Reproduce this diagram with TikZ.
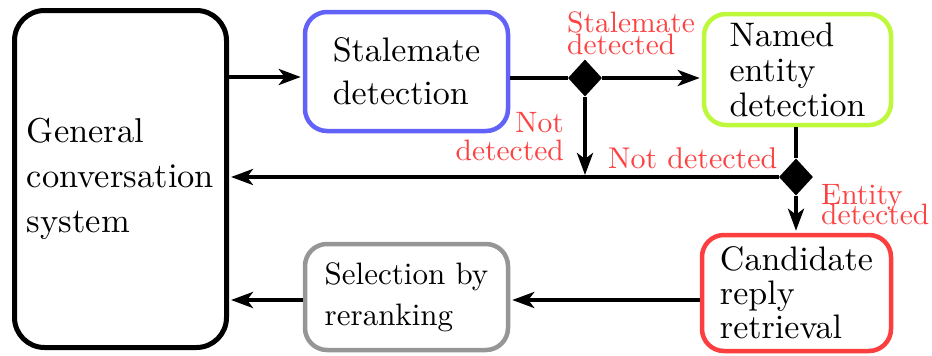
\documentclass[tikz,border=0pt]{standalone}
\usepackage{fontspec}
\setmainfont{lmroman10}[Extension=.otf, UprightFont=*-regular,
  BoldFont=*-bold, ItalicFont=*-italic, BoldItalicFont=*-bolditalic]
\usetikzlibrary{shapes.geometric,arrows.meta}
% let stacked label lines sit closer than their glyph extents
\lineskiplimit=-100pt
\definecolor{stblue}{RGB}{98,98,248}
\definecolor{nergreen}{RGB}{190,248,58}
\definecolor{retred}{RGB}{252,62,62}
\definecolor{rkgray}{RGB}{150,150,150}
\definecolor{lblred}{RGB}{252,66,66}
\begin{document}
\begin{tikzpicture}[x=1pt,y=-1pt,
  box/.style={draw, rounded corners=22pt, line width=4.5pt, align=left,
    inner sep=0pt, font=\fontsize{34}{43}\selectfont},
  lbl/.style={text=lblred, inner sep=0pt, font=\fontsize{29.5}{22.5}\selectfont},
  wire/.style={line width=4pt},
  arr/.style={line width=4pt, shorten >=2pt,
    -{Stealth[length=22pt,width=16pt,inset=6pt]}},
  junction/.style={diamond, fill=black, inner sep=0pt,
    minimum width=34pt, minimum height=37pt}]
\useasboundingbox (0,0) rectangle (932,356);

% processing stages
\node[box, line width=5pt, rounded corners=30pt, minimum width=212pt,
  minimum height=337pt, font=\fontsize{34.5}{45}\selectfont]
  (gen) at (120.5,179) {General\\conversation\\system};
\node[box, draw=stblue, minimum width=203pt, minimum height=119pt]
  (stale) at (406.5,71.5) {Stalemate\\detection};
\node[box, draw=nergreen, minimum width=187pt, minimum height=111pt,
  font=\fontsize{34}{35}\selectfont]
  (ner) at (797.5,69.5) {Named\\entity\\detection};
\node[box, draw=retred, minimum width=189pt, minimum height=116pt,
  font=\fontsize{34}{34}\selectfont]
  (ret) at (796.5,293) {Candidate\\reply\\retrieval};
\node[box, draw=rkgray, minimum width=203pt, minimum height=106pt,
  font=\fontsize{31}{41}\selectfont]
  (rank) at (406.5,297) {Selection by\\reranking};

% decision points
\coordinate (yin) at (0,77);
\coordinate (yout) at (0,300);
\node[junction] (j1) at (585,78) {};
\node[junction] (j2) at (796,177) {};

% flow
\draw[arr] (gen.east |- yin) -- (stale.west |- yin);
\draw[wire] (stale.east |- j1) -- (j1);
\draw[arr] (j1) -- (ner.west |- j1);
\draw[arr] (j1) -- (j1 |- j2);
\draw[wire] (ner.south -| j2) -- (j2);
\draw[arr] (j2) -- (gen.east |- j2);
\draw[arr] (j2) -- (ret.north -| j2);
\draw[arr] (ret.west |- yout) -- (rank.east |- yout);
\draw[arr] (rank.west |- yout) -- (gen.east |- yout);

% branch labels
\node[lbl, anchor=north west, align=left] (lsd) at (567,11.5) {Stalemate\\detected};
\node[lbl, anchor=north east, align=right, font=\fontsize{29.5}{28}\selectfont]
  (lnd1) at (564,112) {Not\\detected};
\node[lbl, anchor=base west, font=\fontsize{30}{30}\selectfont] (lnd2) at (608,168) {Not detected};
\node[lbl, anchor=north west, align=left, font=\fontsize{29.5}{20.5}\selectfont]
  (led) at (821,184) {Entity\\detected};
\end{tikzpicture}
\end{document}
